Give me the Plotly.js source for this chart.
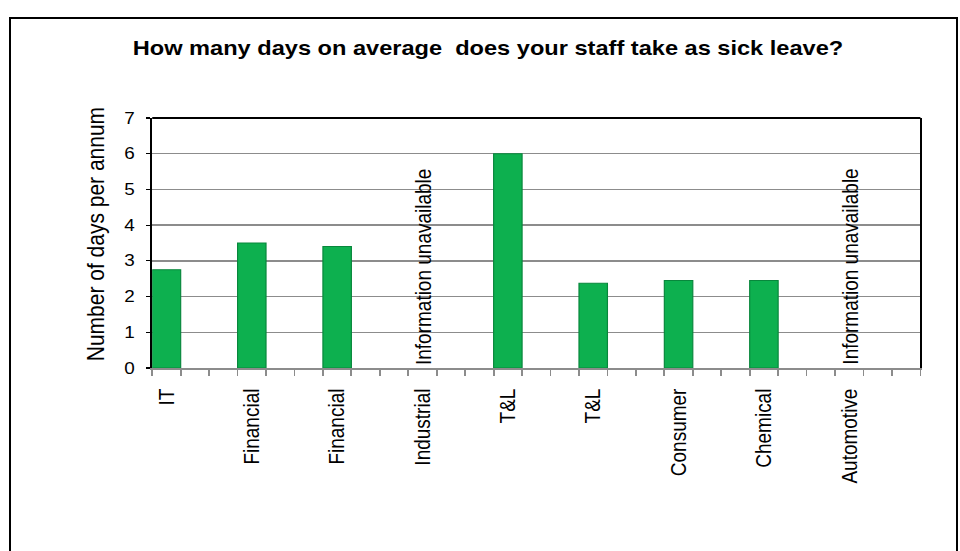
<!DOCTYPE html>
<html>
<head>
<meta charset="utf-8">
<script src="https://cdn.plot.ly/plotly-3.0.1.min.js"></script>
<style>
  html, body { margin: 0; padding: 0; background: #ffffff; overflow: hidden; width: 960px; height: 551px; }
  #frame { position: absolute; left: 9px; top: 17px; width: 949px; height: 700px; border: 2px solid #000; box-sizing: border-box; pointer-events: none; z-index: 5; }
  #wrap { position: absolute; left: 0; top: 0; height: 551px; transform-origin: 0 0; }
</style>
</head>
<body>
<div id="frame"></div>
<div id="wrap"><div id="chart"></div></div>
<script>
// ---- data ----
const categories = ['IT', 'Financial', 'Financial', 'Industrial', 'T&L', 'T&L', 'Consumer', 'Chemical', 'Automotive'];
const days = [2.75, 3.5, 3.4, null, 6.0, 2.37, 2.45, 2.45, null];
const yTickValues = [0, 1, 2, 3, 4, 5, 6, 7];
const unavailableText = 'Information unavailable';
const titleText = 'How many days on average  does your staff take as sick leave?';
const yTitleText = 'Number of days per annum';

// ---- layout helpers ----
const STRETCH = 1.18;              // original picture is horizontally stretched
const W = 960 / STRETCH;
const H = 551;
const SLOTS_PER_CAT = 3;
const totalSlots = categories.length * SLOTS_PER_CAT;
const FONT = 'Arial, "Liberation Sans", sans-serif';

const wrap = document.getElementById('wrap');
wrap.style.width = W + 'px';
wrap.style.transform = 'scaleX(' + STRETCH + ')';

const xPos = categories.map((c, i) => i * SLOTS_PER_CAT);

const trace = {
  type: 'bar',
  x: xPos,
  y: days,
  width: 1,
  marker: { color: '#0db04f', line: { color: '#08873c', width: 1 } },
  hoverinfo: 'skip'
};

const annotations = [];
days.forEach((v, i) => {
  if (v === null) {
    annotations.push({
      x: xPos[i], y: 0, xref: 'x', yref: 'y',
      text: unavailableText, textangle: -90, showarrow: false,
      xanchor: 'center', yanchor: 'bottom', yshift: 1,
      font: { family: FONT, size: 19, color: '#000' }
    });
  }
});
annotations.push({
  x: 0, y: 0.5, xref: 'paper', yref: 'paper',
  xshift: -48.7, yshift: 9,
  text: yTitleText, textangle: -90, showarrow: false,
  xanchor: 'center', yanchor: 'middle',
  font: { family: FONT, size: 21, color: '#000' }
});

const plotL = 152.5 / STRETCH;
const plotR = W - 920 / STRETCH;

const layout = {
  width: W, height: H,
  margin: { l: plotL, r: plotR, t: 118.3, b: H - 367.7, pad: 0 },
  paper_bgcolor: 'rgba(0,0,0,0)',
  plot_bgcolor: '#ffffff',
  showlegend: false,
  bargap: 0,
  title: {
    text: '<b>' + titleText + '</b>',
    x: 488 / 960, xref: 'container', xanchor: 'center',
    y: 1 - 48 / H, yref: 'container', yanchor: 'middle',
    font: { family: FONT, size: 20, color: '#000' }
  },
  xaxis: {
    range: [-0.5, totalSlots - 0.5],
    tickmode: 'array',
    tickvals: xPos,
    ticktext: categories.map(c => c.replace(/&/g, '&amp;')),
    tickangle: -90,
    ticks: 'outside', ticklen: 6, tickcolor: 'rgba(0,0,0,0)',
    ticklabelstandoff: 5,
    tickfont: { family: FONT, size: 19, color: '#000' },
    minor: { ticks: 'outside', tickmode: 'linear', tick0: -0.5, dtick: 1, ticklen: 6, tickcolor: '#8c8c8c', tickwidth: 1.5, showgrid: false },
    showline: true, linecolor: '#8c8c8c', linewidth: 2,
    showgrid: false, zeroline: false, fixedrange: true
  },
  yaxis: {
    range: [0, 7],
    tickmode: 'array', tickvals: yTickValues,
    ticks: 'outside', ticklen: 4, tickcolor: '#000', tickwidth: 1.2,
    ticklabelstandoff: 6,
    tickfont: { family: FONT, size: 16, color: '#000' },
    showline: true, linecolor: '#000', linewidth: 1.5, mirror: true,
    showgrid: true, gridcolor: '#8c8c8c', gridwidth: 1.5,
    zeroline: false, fixedrange: true
  },
  shapes: [{
    type: 'line', xref: 'paper', yref: 'paper', x0: 0, x1: 1, y0: 1, y1: 1,
    line: { color: '#000', width: 2 }
  }],
  annotations: annotations
};

Plotly.newPlot('chart', [trace], layout, { displayModeBar: false, staticPlot: true });
</script>
</body>
</html>
